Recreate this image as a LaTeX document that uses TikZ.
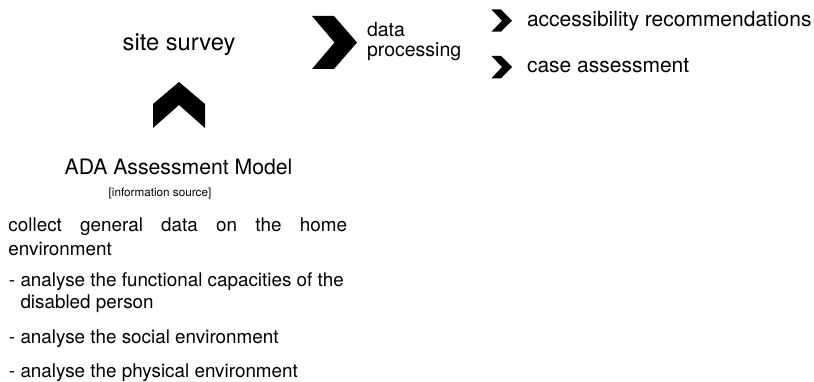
\documentclass[tikz,border=0pt]{standalone}
\usepackage{fontspec}
\setmainfont{TeX Gyre Heros}
\begin{document}
\begin{tikzpicture}[x=1pt,y=-1pt,
  lbl/.style={inner sep=0pt,outer sep=0pt,anchor=base west},
  big/.style={lbl,font=\fontsize{23.7}{26}\selectfont},
  mid/.style={lbl,font=\fontsize{19.5}{22}\selectfont},
  right/.style={lbl,font=\fontsize{21}{24}\selectfont},
  title/.style={lbl,font=\fontsize{21.2}{24}\selectfont},
  body/.style={lbl,font=\fontsize{18.85}{22}\selectfont},
  small/.style={lbl,font=\fontsize{11.7}{14}\selectfont},
  chev/.style={fill=black}]
\useasboundingbox (0,0) rectangle (814,382);
% chevrons
\fill[chev] (312,16) -- (334,16) -- (357,42.5) -- (334,69) -- (312,69) -- (334.5,42.5) -- cycle;
\fill[chev] (153,104) -- (179,82) -- (205,104) -- (205,128) -- (179,105) -- (153,128) -- cycle;
\fill[chev] (491.5,9.5) -- (501,9.5) -- (512,20.7) -- (501,31.7) -- (491.5,31.7) -- (502,20.7) -- cycle;
\fill[chev] (491.5,56) -- (501,56) -- (512,67) -- (501,78.3) -- (491.5,78.3) -- (502,67) -- cycle;
% texts
\node[big,anchor=base] (site) at (179,51) {site survey};
\node[mid] (data) at (367,37) {data};
\node[mid] (proc) at (367,57) {processing};
\node[right] (acc) at (527,27) {accessibility recommendations};
\node[right] (case) at (527,73) {case assessment};
\node[title,anchor=base] (ada) at (178.5,175) {ADA Assessment Model};
\node[small,anchor=base] (info) at (160,197) {[information source]};
\node[body] (l1) at (8.5,232) {\makebox[338.5pt][s]{collect general data on the home}};
\node[body] (l2) at (8.5,255) {environment};
\node[body] (l3) at (9,287) {- analyse the functional capacities of the};
\node[body] (l4) at (20.5,308) {disabled person};
\node[body] (l5) at (9,343) {- analyse the social environment};
\node[body] (l6) at (9,377) {- analyse the physical environment};
\end{tikzpicture}
\end{document}
